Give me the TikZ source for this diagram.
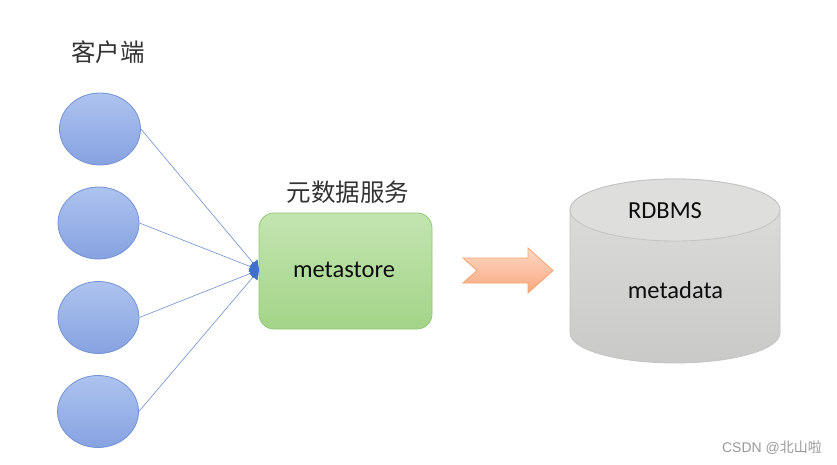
\documentclass[tikz,border=0pt]{standalone}
\usepackage{fontspec}
\setmainfont{Carlito}
\newfontfamily\cjk{Noto Sans CJK SC}
\newfontfamily\wmfont{Liberation Sans}
\usetikzlibrary{shapes.geometric,arrows.meta}
\definecolor{cblue}{HTML}{7393D4}
\definecolor{ctop}{HTML}{ADC3EF}
\definecolor{cbot}{HTML}{86A2E0}
\definecolor{gtop}{HTML}{C2E5B0}
\definecolor{gbot}{HTML}{A3D488}
\definecolor{gedge}{HTML}{93C874}
\definecolor{otop}{HTML}{FDD8C4}
\definecolor{obot}{HTML}{F8A87E}
\definecolor{oedge}{HTML}{F4A472}
\definecolor{dtop}{HTML}{DEDFDD}
\definecolor{dbot}{HTML}{C9CAC8}
\definecolor{dedge}{HTML}{C3C4C2}
\definecolor{lineblue}{HTML}{6F90CF}
\definecolor{tipblue}{HTML}{3F6FCB}
\tikzset{
  client/.style={ellipse, draw=cblue, line width=0.8pt, top color=ctop, bottom color=cbot, minimum width=81pt, minimum height=72pt, inner sep=0pt},
  svcbox/.style={rectangle, rounded corners=15pt, draw=gedge, line width=0.8pt, top color=gtop, bottom color=gbot, minimum width=173pt, minimum height=116pt},
  cjklabel/.style={font=\cjk\fontsize{24.5}{27}\selectfont, text=black!80},
  latinlabel/.style={font=\fontsize{24.5}{27}\selectfont, text=black!95},
  link/.style={draw=lineblue, line width=0.6pt, -{Triangle[length=9pt,width=11pt,color=tipblue,fill=tipblue]}},
}
\begin{document}
\begin{tikzpicture}[x=1pt,y=1pt]
\useasboundingbox (0,0) rectangle (837,464);
\fill[white] (0,0) rectangle (837,464);
% labels
\node[cjklabel] (lclient) at (108,412) {客户端};
\node[cjklabel] (lsvc) at (348,272) {元数据服务};
% clients
\node[client] (c1) at (100,335) {};
\node[client] (c2) at (98.5,241) {};
\node[client] (c3) at (98.5,146.5) {};
\node[client] (c4) at (98,52.5) {};
% metastore
\node[svcbox] (ms) at (345.5,193) {};
\node[latinlabel] (mst) at (344,194) {metastore};
\coordinate (tip) at (259,194);
\foreach \c in {c1,c2,c3,c4}{
  \draw[link] (\c.east) -- (tip);
}
% orange notched arrow
\shade[top color=otop, bottom color=obot, draw=oedge, line width=0.8pt]
  (463,206) -- (528,206) -- (528,216) -- (553,193.5) -- (528,171) -- (528,181) -- (463,181) -- (477,193.5) -- cycle;
% cylinder
\shade[top color=dtop, bottom color=dbot, draw=dedge, line width=0.8pt]
  (570,254) -- (570,131) arc[start angle=180, end angle=360, x radius=105, y radius=30]
  -- (780,254) arc[start angle=0, end angle=180, x radius=105, y radius=31] -- cycle;
\draw[fill=dtop, draw=dedge, line width=0.8pt] (675,254) ellipse[x radius=105, y radius=31];
\node[latinlabel] (rdb) at (665,253) {RDBMS};
\node[latinlabel] (meta) at (675.5,174) {metadata};
% watermark
\node[text=black!40, font=\fontsize{14}{16}\selectfont] (wm) at (772,16) {\wmfont CSDN @\cjk 北山啦};
\end{tikzpicture}
\end{document}
